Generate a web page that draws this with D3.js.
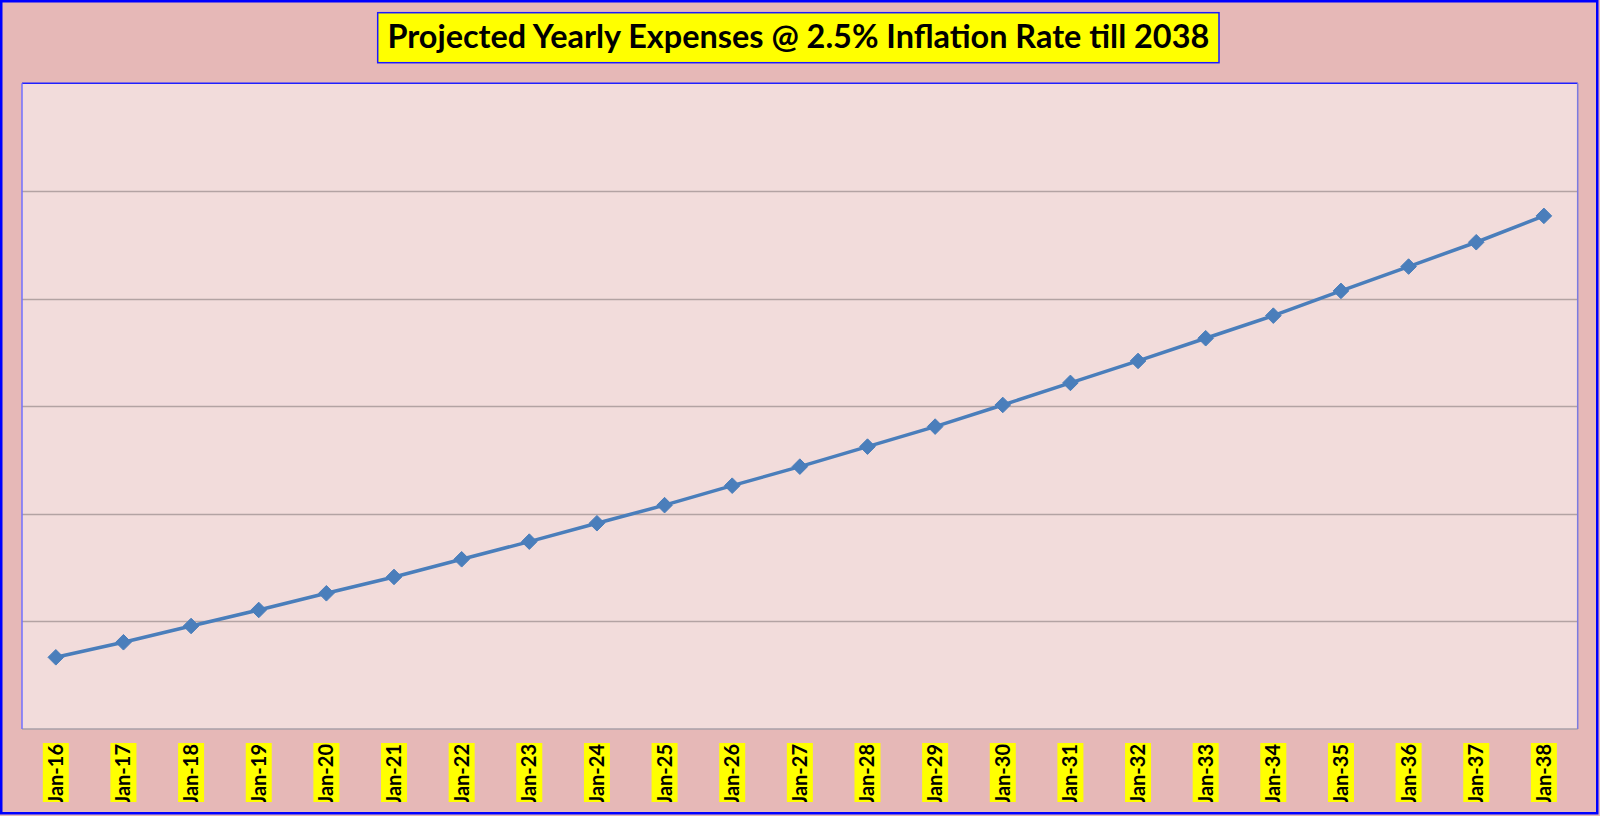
<!DOCTYPE html>
<html><head><meta charset="utf-8">
<script src="https://cdn.jsdelivr.net/npm/d3@7"></script>
<style>html,body{margin:0;padding:0;background:#e6b8b7;}svg{display:block;}</style>
</head><body>
<svg id="chart" width="1600" height="816"></svg>
<script>
const categories = ["Jan-16","Jan-17","Jan-18","Jan-19","Jan-20","Jan-21","Jan-22","Jan-23","Jan-24","Jan-25","Jan-26","Jan-27","Jan-28","Jan-29","Jan-30","Jan-31","Jan-32","Jan-33","Jan-34","Jan-35","Jan-36","Jan-37","Jan-38"];
const expenses = [56660,58060,59570,61060,62610,64130,65770,67410,69120,70800,72610,74380,76240,78100,80110,82160,84200,86310,88410,90710,92970,95230,97680];
const yTicks = [50000,60000,70000,80000,90000,100000,110000];
const titleText = "Projected Yearly Expenses @ 2.5% Inflation Rate till 2038";

const svg = d3.select("#chart");
const W = 1600, H = 816;
const plot = {left:22, right:1577.7, top:83.3, bottom:729};

svg.append("rect").attr("x",1.25).attr("y",1.25).attr("width",W-4).attr("height",H-4)
  .attr("fill","#e6b8b7").attr("stroke","#0000ff").attr("stroke-width",2.5);

const x = d3.scaleBand().domain(categories).range([plot.left, plot.right]).padding(0);
const y = d3.scaleLinear().domain([yTicks[0], yTicks[yTicks.length-1]]).range([plot.bottom, plot.top]);

svg.append("rect").attr("x",plot.left).attr("y",plot.top)
  .attr("width",plot.right-plot.left).attr("height",plot.bottom-plot.top).attr("fill","#f2dcdb");

// gridlines
svg.append("g").selectAll("line").data(yTicks.slice(1,-1)).join("line")
  .attr("x1",plot.left).attr("x2",plot.right)
  .attr("y1",d=>Math.round(y(d))+0.5).attr("y2",d=>Math.round(y(d))+0.5)
  .attr("stroke","#b3a3a3").attr("stroke-width",1.5);

// plot border
svg.append("line").attr("x1",plot.left).attr("x2",plot.right).attr("y1",plot.bottom).attr("y2",plot.bottom)
  .attr("stroke","#a8a0a8").attr("stroke-width",1.5);
svg.append("line").attr("x1",plot.left).attr("x2",plot.right).attr("y1",plot.top).attr("y2",plot.top)
  .attr("stroke","#2020ff").attr("stroke-width",1.5);
svg.append("line").attr("x1",plot.left).attr("x2",plot.left).attr("y1",plot.top).attr("y2",plot.bottom)
  .attr("stroke","#7070ff").attr("stroke-width",1.5);
svg.append("line").attr("x1",plot.right).attr("x2",plot.right).attr("y1",plot.top).attr("y2",plot.bottom)
  .attr("stroke","#7b7be0").attr("stroke-width",1.5);

const cx = d => x(d) + x.bandwidth()/2;

// line
const line = d3.line().x((d,i)=>cx(categories[i])).y(d=>y(d));
svg.append("path").datum(expenses).attr("d",line)
  .attr("fill","none").attr("stroke","#4a7ebb").attr("stroke-width",3.5).attr("stroke-linejoin","round");

// markers
const diamond = d3.symbol().type(d3.symbolDiamond2).size(155);
svg.append("g").selectAll("path").data(expenses).join("path")
  .attr("d",diamond)
  .attr("transform",(d,i)=>`translate(${cx(categories[i])},${y(d)})`)
  .attr("fill","#4a7ebb").attr("stroke","#4a7ebb").attr("stroke-width",1);

// x labels
svg.append("clipPath").attr("id","lblclip").append("rect")
  .attr("x",0).attr("y",740).attr("width",W).attr("height",62);
const lg = svg.append("g").attr("clip-path","url(#lblclip)");
categories.forEach(c=>{
  const px = cx(c);
  lg.append("rect").attr("x",px-13).attr("y",743).attr("width",26).attr("height",59).attr("fill","#ffff00");
  lg.append("text").text(c)
    .attr("transform",`translate(${px+7},744) rotate(-90)`)
    .attr("text-anchor","end")
    .attr("font-family","Lato, 'Open Sans', sans-serif").attr("font-weight","bold")
    .attr("font-size",20).attr("fill","#000");
});

// title
const tb = {x1:377.7, x2:1219, y1:12.7, y2:62.7};
svg.append("rect").attr("x",tb.x1).attr("y",tb.y1).attr("width",tb.x2-tb.x1).attr("height",tb.y2-tb.y1)
  .attr("fill","#ffff00").attr("stroke","#1a1aff").attr("stroke-width",1.5);
const tt = svg.append("text").text(titleText)
  .attr("x",(tb.x1+tb.x2)/2).attr("y",47.5).attr("text-anchor","middle")
  .attr("font-family","Lato, 'Open Sans', sans-serif").attr("font-weight","bold")
  .attr("font-size",30).attr("fill","#000");
const len = tt.node().getComputedTextLength();
tt.attr("font-size", 30*822/len);
</script>
</body></html>
